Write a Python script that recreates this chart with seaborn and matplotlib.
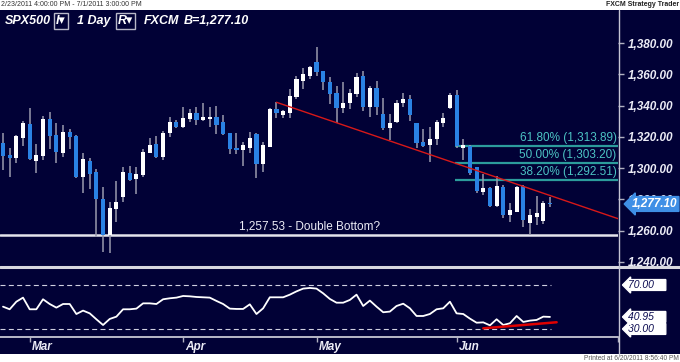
import numpy as np
import matplotlib
matplotlib.use('Agg')
import matplotlib.pyplot as plt
import matplotlib.patches as mpatches
import matplotlib.lines as mlines
import matplotlib.transforms as mtransforms
import seaborn as sns

# SPX500 daily candles, 2/23/2011 - 6/20/2011
opens = [1316.3, 1308.4, 1306.3, 1319.1, 1328.0, 1304.7, 1307.9, 1331.6, 1321.2, 1309.9,
         1323.3, 1320.5, 1294.5, 1304.7, 1297.7, 1280.1, 1257.2, 1273.9, 1281.7, 1296.7,
         1292.9, 1295.6, 1309.9, 1315.2, 1307.3, 1322.3, 1329.3, 1326.5, 1331.6, 1335.1,
         1330.8, 1331.6, 1332.9, 1329.7, 1322.3, 1312.7, 1311.6, 1313.1, 1321.8, 1302.6,
         1313.7, 1337.8, 1334.0, 1335.4, 1345.7, 1355.9, 1359.1, 1368.0, 1362.1, 1355.3,
         1348.2, 1338.2, 1341.4, 1347.4, 1358.9, 1339.3, 1351.0, 1334.6, 1325.5, 1329.7,
         1341.8, 1344.0, 1328.7, 1316.9, 1314.8, 1318.4, 1328.7, 1338.2, 1346.8, 1312.7,
         1314.1, 1300.5, 1284.9, 1287.1, 1275.8, 1288.1, 1270.0, 1272.2, 1288.6, 1264.7,
         1268.9, 1266.4, 1277.9]
highs = [1322.6, 1312.7, 1321.2, 1330.3, 1338.2, 1315.4, 1333.3, 1335.9, 1328.7, 1327.6,
         1325.0, 1321.0, 1309.5, 1306.7, 1299.2, 1287.7, 1278.5, 1292.0, 1300.9, 1301.4,
         1300.9, 1312.0, 1319.1, 1320.5, 1323.7, 1332.9, 1330.8, 1338.9, 1337.6, 1339.3,
         1341.4, 1339.3, 1339.9, 1334.0, 1322.6, 1322.3, 1316.9, 1322.9, 1322.3, 1316.9,
         1338.2, 1342.1, 1337.2, 1350.6, 1359.1, 1363.8, 1365.5, 1377.6, 1362.3, 1358.5,
         1352.5, 1355.3, 1350.4, 1360.6, 1362.3, 1352.5, 1355.9, 1344.6, 1334.6, 1343.6,
         1347.8, 1346.8, 1329.0, 1324.8, 1326.5, 1330.8, 1335.1, 1347.8, 1350.0, 1318.4,
         1314.8, 1300.9, 1296.2, 1288.1, 1295.0, 1289.2, 1277.9, 1288.6, 1289.2, 1273.7,
         1282.2, 1279.2, 1281.3]
lows = [1298.8, 1294.1, 1303.5, 1314.1, 1305.2, 1296.7, 1305.2, 1312.0, 1303.5, 1307.3,
        1312.0, 1293.5, 1283.9, 1286.6, 1256.2, 1246.6, 1245.7, 1265.4, 1278.5, 1292.0,
        1283.5, 1294.1, 1309.5, 1306.7, 1305.2, 1319.7, 1325.5, 1325.8, 1329.5, 1327.4,
        1330.1, 1326.1, 1321.8, 1321.0, 1308.8, 1308.8, 1301.4, 1309.5, 1293.5, 1297.3,
        1313.2, 1332.2, 1331.9, 1331.9, 1344.2, 1350.6, 1356.8, 1359.1, 1350.0, 1340.8,
        1329.0, 1335.4, 1337.6, 1345.3, 1336.7, 1332.9, 1334.0, 1324.4, 1318.0, 1329.0,
        1339.3, 1330.3, 1312.7, 1313.3, 1304.1, 1314.8, 1326.1, 1337.6, 1312.7, 1305.2,
        1295.6, 1283.9, 1282.8, 1275.3, 1275.3, 1267.9, 1265.7, 1272.0, 1262.5, 1257.2,
        1263.6, 1264.3, 1275.3]
closes = [1307.9, 1306.7, 1320.5, 1328.7, 1305.6, 1308.4, 1331.4, 1320.5, 1310.1, 1323.3,
          1320.1, 1294.3, 1305.6, 1296.2, 1280.1, 1257.2, 1274.5, 1278.5, 1297.7, 1292.4,
          1296.2, 1310.5, 1314.6, 1307.3, 1322.6, 1329.3, 1326.1, 1331.9, 1335.4, 1330.8,
          1332.5, 1332.9, 1327.4, 1321.8, 1312.0, 1311.6, 1314.8, 1319.5, 1302.6, 1314.8,
          1337.8, 1335.1, 1336.5, 1346.3, 1356.8, 1360.0, 1364.8, 1361.3, 1354.9, 1347.2,
          1338.2, 1341.8, 1347.8, 1358.5, 1339.3, 1351.0, 1339.3, 1325.5, 1329.0, 1341.8,
          1344.0, 1334.0, 1316.3, 1314.1, 1318.4, 1329.7, 1331.9, 1346.8, 1314.1, 1314.8,
          1296.7, 1285.6, 1287.1, 1275.8, 1288.6, 1270.0, 1273.2, 1288.1, 1266.8, 1270.0,
          1271.1, 1277.9, 1277.1]
rsi = [50.3, 47.9, 54.8, 58.5, 47.9, 47.9, 57.0, 52.7, 49.4, 52.7,
       52.7, 43.6, 46.7, 44.2, 38.8, 33.6, 39.1, 41.2, 47.9, 47.9,
       48.5, 53.3, 53.3, 52.7, 57.0, 57.9, 58.5, 60.0, 59.7, 59.1,
       58.8, 58.5, 55.5, 52.7, 48.5, 48.2, 48.2, 52.4, 43.6, 48.8,
       58.8, 58.8, 58.8, 61.2, 64.2, 66.7, 67.3, 66.7, 62.4, 57.3,
       53.9, 53.9, 56.4, 61.2, 50.9, 55.8, 50.3, 45.2, 45.8, 50.9,
       53.0, 48.8, 41.8, 41.8, 43.6, 47.9, 48.8, 54.8, 44.2, 43.6,
       39.4, 35.7, 36.0, 33.3, 38.8, 33.6, 35.2, 41.8, 36.4, 37.6,
       38.2, 41.2, 40.95]

month_pos = [4, 27, 47, 68]
month_labels = ['Mar', 'Apr', 'May', 'Jun']
price_ticks = [1240, 1260, 1280, 1300, 1320, 1340, 1360, 1380]
last_price = 1277.10
support = 1257.53
support_label = '1,257.53 - Double Bottom?'
trend_x = [41, 92.2]
trend_y = [1342.1, 1267.7]
fib_start = 68
fib_levels = [1313.89, 1303.20, 1292.51]
fib_labels = ['61.80% (1,313.89)', '50.00% (1,303.20)', '38.20% (1,292.51)']
rsi_levels = [70, 30]
rsi_last = 40.95
rsi_trend_x = [72, 83]
rsi_trend_y = [30.6, 36.1]

# colours
NAVY = '#010136'
BLUE = '#2a82e4'
WICK = '#9a9aae'
TEAL = '#2c9c9c'
TEAL_TXT = '#4cc4c4'
LIGHT = '#ececf6'

sns.set_style('dark')
plt.rcParams['font.family'] = ['Liberation Sans', 'DejaVu Sans']

W, H = 680, 362
X_LIM = (-0.45, 92.2)

def fx(px):
    return px / W

def fy(py):
    return 1 - py / H

fig = plt.figure(figsize=(6.8, 3.62), dpi=100)
fig.patch.set_facecolor('white')
fig.add_artist(mpatches.Rectangle((0, fy(354)), 1, (354 - 10) / H, transform=fig.transFigure,
                                  facecolor=NAVY, edgecolor='none', zorder=0))

# ---- price panel ----
ax = fig.add_axes([fx(0), fy(267), fx(618), (267 - 10) / H])
ax.set_facecolor(NAVY)
x = np.arange(len(opens))
o = np.array(opens)
c = np.array(closes)
up = c >= o
body_lo = np.minimum(o, c)
body_h = np.maximum(np.abs(c - o), 0.7)
ax.vlines(x, lows, highs, color=WICK, lw=1.1, zorder=2)
ax.bar(x, body_h, bottom=body_lo, width=0.62, color=np.where(up, 'white', BLUE),
       linewidth=0, zorder=3)

ax.axhline(support, color='#e4e4ec', lw=1.8, zorder=1)
ax.annotate(support_label, xy=(46, support), xytext=(0, 1.5), textcoords='offset points',
            ha='center', va='bottom', color=LIGHT, fontsize=8.5)

ax.plot(trend_x, trend_y, color='#d81818', lw=1.0, zorder=4)

for lvl, lab in zip(fib_levels, fib_labels):
    ax.hlines(lvl, fib_start - 0.2, X_LIM[1], color=TEAL, lw=1.6, zorder=1)
    ax.annotate(lab, xy=(X_LIM[1], lvl), xytext=(-1, 1.5), textcoords='offset points',
                ha='right', va='bottom', color=TEAL_TXT, fontsize=8.5)

ax.set_xlim(*X_LIM)
ax.set_ylim(1236.8, 1401.1)
ax.set_xticks([])
ax.yaxis.tick_right()
ax.set_yticks(price_ticks)
ax.set_yticklabels([f'{v:,.2f}' for v in price_ticks])
ax.tick_params(axis='y', direction='out', length=4, width=1, color='#b0b0c0', pad=3,
               labelsize=8.5, labelcolor=LIGHT)
for lbl in ax.get_yticklabels():
    lbl.set_fontstyle('italic')
    lbl.set_fontweight('bold')
for s in ax.spines.values():
    s.set_visible(False)
ax.grid(False)

blend_p = mtransforms.blended_transform_factory(fig.transFigure, ax.transData)
ax.text(fx(632), last_price, f'{last_price:,.2f}', transform=blend_p, ha='left', va='center',
        color='white', fontsize=8.5, fontstyle='italic', fontweight='bold', clip_on=False, zorder=10,
        bbox=dict(boxstyle='larrow,pad=0.12', fc='#3f8fe6', ec='#3f8fe6'))

# ---- RSI panel ----
ax2 = fig.add_axes([fx(0), fy(336), fx(618), (336 - 268) / H])
ax2.set_facecolor(NAVY)
ax2.hlines(rsi_levels, X_LIM[0], 82.2, colors='#d0d0e0', linestyles=(0, (4.5, 3)), lw=0.8)
sns.lineplot(x=x, y=rsi, ax=ax2, color='white', lw=1.3)
ax2.plot(rsi_trend_x, rsi_trend_y, color='#e00000', lw=1.8)
ax2.set_xlim(*X_LIM)
ax2.set_ylim(23.6, 85.45)
ax2.set_yticks([])
ax2.set_xticks(month_pos + [X_LIM[1] - 0.05])
ax2.set_xticklabels([])
ax2.tick_params(axis='x', direction='out', length=4, width=1, color='#b0b0c0', bottom=True)
ax2.set_xlabel('')
ax2.set_ylabel('')
for s in ax2.spines.values():
    s.set_visible(False)
ax2.grid(False)

blend_d = mtransforms.blended_transform_factory(ax2.transData, fig.transFigure)
for pos, lab in zip(month_pos, month_labels):
    ax2.text(pos + 0.3, fy(347), lab, transform=blend_d, ha='left', va='center', color=LIGHT,
             fontsize=8.5, fontstyle='italic', fontweight='bold', clip_on=False)

blend_r = mtransforms.blended_transform_factory(fig.transFigure, ax2.transData)
for val in rsi_levels + [rsi_last]:
    ax2.text(fx(628), val, f'{val:.2f}    ', transform=blend_r, ha='left', va='center',
             color='#0a0a50', fontsize=7.5, fontstyle='italic', clip_on=False, zorder=10,
             bbox=dict(boxstyle='larrow,pad=0.04', fc='white', ec='white'))

# frame lines
fig.add_artist(mlines.Line2D([0, 1], [fy(267), fy(267)], color='#d8d8e0', lw=2.2))
fig.add_artist(mlines.Line2D([0, fx(618)], [fy(336.5), fy(336.5)], color='#b8b8c8', lw=1.4))
fig.add_artist(mlines.Line2D([fx(618.5), fx(618.5)], [fy(10), fy(354)], color='#c4c4d4', lw=1.0))

# header and footer texts
hdr = dict(color='white', fontsize=9, fontstyle='italic', fontweight='bold', va='center')
fig.text(fx(5), fy(21), 'SPX500', **hdr)
fig.text(fx(56), fy(21), 'I\u25be', bbox=dict(boxstyle='square,pad=0.15', fc='none', ec='#b8b8c8', lw=1), **hdr)
fig.text(fx(77), fy(21), '1 Day', **hdr)
fig.text(fx(118), fy(21), 'R\u25be', bbox=dict(boxstyle='square,pad=0.15', fc='none', ec='#b8b8c8', lw=1), **hdr)
fig.text(fx(144), fy(21), 'FXCM', **hdr)
fig.text(fx(184), fy(21), 'B=1,277.10', **hdr)

fig.text(fx(1), fy(4.5), '2/23/2011 4:00:00 PM - 7/1/2011 3:00:00 PM', fontsize=5, color='#333333', va='center')
fig.text(fx(679), fy(4.5), 'FXCM Strategy Trader', fontsize=5, fontweight='bold', color='#222222',
         va='center', ha='right')
fig.text(fx(679), fy(358.5), 'Printed at 6/20/2011 8:56:40 PM', fontsize=4.8, color='#555555',
         va='center', ha='right')

fig.savefig('out.png', dpi=100, facecolor='white')
